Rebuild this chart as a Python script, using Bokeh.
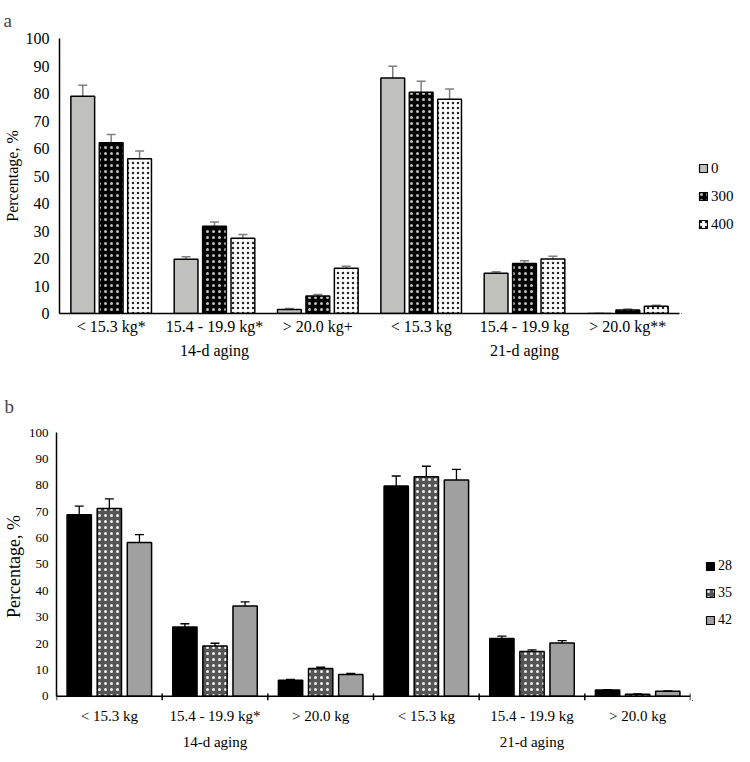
from bokeh.plotting import figure
from bokeh.models import (FactorRange, Range1d, FixedTicker, Whisker, Span,
                          TeeHead, ColumnDataSource)
from bokeh.transform import dodge
from bokeh.layouts import column, row
from bokeh.embed import file_html
from bokeh.resources import INLINE

FONT = "Liberation Serif"

groups = ["14-d aging", "21-d aging"]

# Panel a
cats_a = ["< 15.3 kg*", "15.4 - 19.9 kg*", "> 20.0 kg+", "< 15.3 kg", "15.4 - 19.9 kg", "> 20.0 kg**"]
series_a = ["0", "300", "400"]
vals_a_0 = [79.0, 19.7, 1.5, 85.6, 14.6, 0.0]
vals_a_300 = [62.1, 31.7, 6.4, 80.5, 18.2, 1.3]
vals_a_400 = [56.3, 27.4, 16.5, 77.9, 19.8, 2.6]
err_a_0 = [4.0, 0.9, 0.3, 4.3, 0.6, 0.0]
err_a_300 = [3.0, 1.6, 0.5, 4.0, 1.0, 0.3]
err_a_400 = [2.8, 1.3, 0.7, 3.7, 1.0, 0.4]

# Panel b
cats_b = ["< 15.3 kg", "15.4 - 19.9 kg*", "> 20.0 kg", "< 15.3 kg", "15.4 - 19.9 kg", "> 20.0 kg"]
series_b = ["28", "35", "42"]
vals_b_28 = [68.8, 26.3, 6.1, 79.7, 21.9, 2.4]
vals_b_35 = [71.2, 19.1, 10.5, 83.2, 17.0, 0.8]
vals_b_42 = [58.3, 34.2, 8.3, 82.0, 20.2, 1.9]
err_b_28 = [3.3, 1.2, 0.3, 3.8, 0.9, 0.1]
err_b_35 = [3.6, 1.0, 0.5, 4.0, 0.6, 0.1]
err_b_42 = [3.0, 1.6, 0.4, 4.0, 0.9, 0.1]

y_ticks = list(range(0, 101, 10))


def factors(cats):
    return [(groups[0], c) for c in cats[:3]] + [(groups[1], c) for c in cats[3:]]


def make_fig(cats, title, width, height, borders, ystart, ytick_font, xtick_font,
             label_font, title_standoff, ytick_standoff, xtick_standoff):
    f = factors(cats)
    p = figure(x_range=FactorRange(*f, factor_padding=0, group_padding=0, subgroup_padding=0,
                                   range_padding=0),
               y_range=Range1d(ystart, 100), width=width, height=height,
               output_backend="svg", toolbar_location=None,
               min_border_left=borders[0], min_border_right=borders[1],
               min_border_top=borders[2], min_border_bottom=borders[3])
    p.outline_line_color = None
    p.xgrid.grid_line_color = None
    p.ygrid.grid_line_color = None
    p.title.text = title
    p.title.text_font = FONT
    p.title.text_font_style = "normal"
    p.title.text_font_size = "19px"
    p.title.align = "left"
    p.title.offset = -borders[0] - 2
    p.title.standoff = title_standoff

    ya = p.yaxis[0]
    ya.ticker = FixedTicker(ticks=y_ticks)
    ya.bounds = (0, 100)
    ya.major_tick_line_color = None
    ya.major_tick_out = 0
    ya.major_tick_in = 0
    ya.minor_tick_line_color = None
    ya.minor_tick_out = 0
    ya.axis_line_width = 1.5
    ya.axis_line_color = "black"
    ya.major_label_text_font = FONT
    ya.major_label_text_font_size = ytick_font
    ya.major_label_text_color = "black"
    ya.major_label_standoff = ytick_standoff
    ya.axis_label = "Percentage, %"
    ya.axis_label_text_font = FONT
    ya.axis_label_text_font_style = "normal"
    ya.axis_label_text_font_size = label_font
    ya.axis_label_text_color = "black"
    ya.axis_label_standoff = 2

    xa = p.xaxis[0]
    xa.major_tick_line_color = None
    xa.major_tick_out = 0
    xa.major_tick_in = 0
    xa.minor_tick_line_color = None
    xa.minor_tick_out = 0
    xa.axis_line_width = 1.5
    xa.axis_line_color = "black"
    xa.major_label_text_font = FONT
    xa.major_label_text_font_size = xtick_font
    xa.major_label_text_color = "black"
    xa.major_label_standoff = xtick_standoff
    xa.group_text_font = FONT
    xa.group_text_font_size = xtick_font
    xa.group_text_font_style = "normal"
    xa.group_text_color = "black"
    xa.separator_line_color = None
    return p, f


def legend_fig(width, height, names, styles, loc, spacing, font_size):
    lf = figure(width=width, height=height, output_backend="svg", toolbar_location=None,
                x_range=Range1d(0, 1), y_range=Range1d(0, 1),
                x_axis_location=None, y_axis_location=None,
                min_border_left=0, min_border_right=0, min_border_top=0, min_border_bottom=0)
    lf.grid.grid_line_color = None
    lf.outline_line_color = None
    for name, st in zip(names, styles):
        kw = {k: v for k, v in st.items() if v is not None}
        # proxy glyph outside the visible range: only its legend swatch is seen
        lf.vbar(x=[-5], top=[-5], width=0.1, line_color="black", line_width=1.2,
                legend_label=name, **kw)
    lg = lf.legend[0]
    lg.location = loc
    lg.background_fill_alpha = 0
    lg.border_line_alpha = 0
    lg.padding = 0
    lg.margin = 0
    lg.spacing = spacing
    lg.label_height = 20
    lg.glyph_width = 10
    lg.glyph_height = 10
    lg.label_standoff = 3
    lg.label_text_font = FONT
    lg.label_text_font_size = font_size
    lg.label_text_color = "black"
    return lf


# ---------- Panel a ----------
pa, fa = make_fig(cats_a, "a", 681, 362, (54, 2, 37, 49), 0, "16px", "16px", "16px", 15, 10, 4)

styles_a = [
    dict(fill_color="#c0c0bc", hatch_pattern=None),
    dict(fill_color="black", hatch_pattern="dot", hatch_color="white", hatch_scale=6,
         hatch_alpha=0.75),
    dict(fill_color="white", hatch_pattern="dot", hatch_color="black", hatch_scale=5,
         hatch_alpha=0.85),
]
offs = [-0.275, 0.0, 0.275]
for name, vals, errs, st, off in zip(series_a, [vals_a_0, vals_a_300, vals_a_400],
                                     [err_a_0, err_a_300, err_a_400], styles_a, offs):
    src = ColumnDataSource(dict(x=fa, top=vals,
                                upper=[v + e for v, e in zip(vals, errs)],
                                lower=[v - e for v, e in zip(vals, errs)]))
    kw = {k: v for k, v in st.items() if v is not None}
    pa.vbar(x=dodge("x", off, range=pa.x_range), top="top", width=0.23, source=src,
            line_color="black", line_width=1.5, **kw)
    w = Whisker(source=src, base=dodge("x", off, range=pa.x_range), upper="upper", lower="lower",
                line_color="#7f7f7f", line_width=1.5,
                upper_head=TeeHead(size=9, line_color="#7f7f7f", line_width=1.5),
                lower_head=TeeHead(size=9, line_color="#7f7f7f", line_width=1.5))
    pa.add_layout(w)

la = legend_fig(61, 362, series_a, styles_a, (17, 79), 8, "15px")

# ---------- Panel b ----------
pb, fb = make_fig(cats_b, "b", 692, 392, (50, 2, 70, 54), -1.6, "13px", "15px", "18px", 32, 8, 7)
xb = pb.xaxis[0]
xb.axis_line_color = None
pb.add_layout(Span(location=0, dimension="width", line_color="black", line_width=1.5))

# boundary tick marks between categories
tick_src = ColumnDataSource(dict(x=fb))
pb.segment(x0=dodge("x", -0.5, range=pb.x_range), x1=dodge("x", -0.5, range=pb.x_range),
           y0=-1.6, y1=1.1, source=tick_src, line_color="black", line_width=1.5)
end_src = ColumnDataSource(dict(x=fb[-1:]))
pb.segment(x0=dodge("x", 0.5, range=pb.x_range), x1=dodge("x", 0.5, range=pb.x_range),
           y0=-1.6, y1=1.1, source=end_src, line_color="black", line_width=1.5)

styles_b = [
    dict(fill_color="black", hatch_pattern=None),
    dict(fill_color="#555555", hatch_pattern="dot", hatch_color="white", hatch_scale=6,
         hatch_alpha=0.9),
    dict(fill_color="#a0a0a0", hatch_pattern=None),
]
offs_b = [-0.285, 0.0, 0.285]
for name, vals, errs, st, off in zip(series_b, [vals_b_28, vals_b_35, vals_b_42],
                                     [err_b_28, err_b_35, err_b_42], styles_b, offs_b):
    src = ColumnDataSource(dict(x=fb, top=vals,
                                upper=[v + e for v, e in zip(vals, errs)],
                                lower=[v - e for v, e in zip(vals, errs)]))
    kw = {k: v for k, v in st.items() if v is not None}
    pb.vbar(x=dodge("x", off, range=pb.x_range), top="top", bottom=0, width=0.23, source=src,
            line_color="black", line_width=1.5, **kw)
    w = Whisker(source=src, base=dodge("x", off, range=pb.x_range), upper="upper", lower="lower",
                line_color="black", line_width=1.3,
                upper_head=TeeHead(size=9, line_color="black", line_width=1.3),
                lower_head=TeeHead(size=9, line_color="black", line_width=1.3))
    pb.add_layout(w)

lb = legend_fig(50, 392, series_b, styles_b, (13, 70), 7, "14px")

layout = column(row(pa, la, spacing=0), row(pb, lb, spacing=0), spacing=0)
open("out.html", "w").write(file_html(layout, INLINE))
